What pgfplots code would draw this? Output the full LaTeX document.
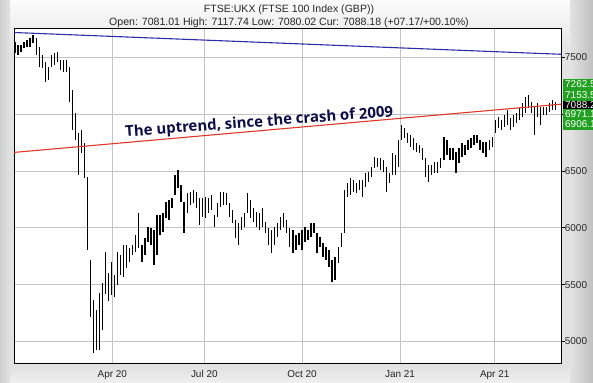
\documentclass[border=0pt]{standalone}
\usepackage{fontspec}
\setmainfont{Liberation Sans}
\newfontfamily\annotfont{Open Sans}
\usepackage{pgfplots}
\usepackage{pgfplotstable}
\pgfplotsset{compat=1.18}
\definecolor{gridgray}{RGB}{196,196,196}
\definecolor{trendblue}{RGB}{45,45,165}
\definecolor{trendred}{RGB}{225,55,40}
\definecolor{annotnavy}{RGB}{12,12,70}
\definecolor{lblgreen}{RGB}{34,160,34}
\definecolor{framegray}{RGB}{226,226,226}
\definecolor{framedark}{RGB}{192,192,192}
\definecolor{frameside}{RGB}{208,208,208}

\pgfplotstableread{
t lo hi
1 7535 7637
3 7520 7608
5 7549 7608
7 7579 7637
9 7593 7652
11 7593 7667
13 7623 7696
15 7520 7667
17 7417 7593
19 7403 7520
21 7285 7461
23 7300 7417
25 7417 7520
27 7432 7535
29 7461 7549
31 7388 7476
33 7373 7476
35 7373 7476
37 7109 7417
39 6860 7212
41 6772 7007
43 6464 6830
45 6654 6860
47 6434 6742
49 5804 6449
51 5217 5715
53 4894 5363
55 4923 5276
57 4923 5422
59 5099 5510
61 5420 5790
63 5360 5600
65 5408 5701
67 5393 5584
69 5496 5789
71 5584 5760
73 5569 5848
75 5642 5848
77 5701 5818
79 5760 5848
81 5789 5936
83 5818 6127
85 5701 5848
87 5760 5906
89 5877 6009
91 5848 5994
93 5672 5980
95 5760 6112
97 5936 6112
99 5965 6127
101 6083 6229
103 6068 6244
105 6171 6259
107 6288 6464
109 6347 6508
111 6229 6376
113 5950 6229
115 6127 6303
117 6200 6317
119 6215 6332
121 6171 6317
123 6024 6259
125 6097 6259
127 6083 6273
129 6127 6259
131 6156 6288
133 6009 6112
135 6097 6215
137 6185 6317
139 6200 6317
141 6200 6303
143 6097 6215
145 6039 6156
147 5907 6068
149 5848 6039
151 5980 6097
153 6009 6127
155 6127 6303
157 6083 6244
159 6053 6171
161 6009 6141
163 5980 6127
165 6009 6171
167 5951 6053
169 5848 5995
171 5775 5980
173 5848 6009
175 5921 6039
177 5980 6097
179 6009 6127
181 5951 6068
183 5833 5995
185 5775 5980
187 5804 5936
189 5848 5951
191 5804 5980
193 5877 6009
195 5892 5980
197 5921 6039
199 5951 6039
201 5774 5950
203 5833 5921
205 5745 5862
207 5716 5833
209 5657 5804
211 5525 5716
213 5540 5745
215 5686 5833
217 5833 5950
219 5950 6332
221 6273 6391
223 6288 6435
225 6317 6420
227 6303 6391
229 6332 6420
231 6273 6420
233 6361 6479
235 6405 6493
237 6449 6537
239 6523 6625
241 6537 6611
243 6508 6611
245 6493 6596
247 6317 6537
249 6391 6479
251 6464 6655
253 6464 6640
255 6537 6772
257 6772 6904
259 6787 6875
261 6743 6831
263 6713 6816
265 6684 6787
267 6669 6743
269 6655 6728
271 6596 6699
273 6449 6611
275 6405 6552
277 6464 6552
279 6478 6581
281 6478 6581
283 6522 6611
285 6596 6801
287 6640 6772
289 6596 6699
291 6596 6699
293 6478 6669
295 6567 6699
297 6625 6743
299 6640 6728
301 6684 6772
303 6699 6787
305 6728 6816
307 6743 6816
309 6684 6772
311 6655 6757
313 6625 6757
315 6684 6772
317 6713 6801
319 6830 6948
321 6874 6977
323 6860 6948
325 6889 6992
327 6904 7036
329 6860 6963
331 6889 6992
333 6918 7007
335 6948 7050
337 6977 7095
339 7007 7153
341 7050 7168
343 7007 7109
345 6816 7065
347 6977 7095
349 6904 7065
351 6992 7065
353 6992 7065
355 7021 7095
357 7036 7124
359 7036 7109
}\ohlc

\begin{document}
\begin{tikzpicture}
\useasboundingbox (0bp,0bp) rectangle (593bp,383bp);
% frame background
\fill[framegray] (0bp,0bp) rectangle (593bp,383bp);
\shade[top color=white!90!framegray, bottom color=framegray] (0bp,330bp) rectangle (593bp,383bp);
\shade[top color=framegray, bottom color=white!75!framedark] (0bp,0bp) rectangle (593bp,16bp);
\shade[left color=frameside, right color=framegray] (0bp,0bp) rectangle (10bp,383bp);
\shade[left color=framegray, right color=framedark] (570bp,0bp) rectangle (593bp,383bp);

\begin{axis}[
  at={(14bp,19.3bp)}, anchor=south west,
  scale only axis, width=547.7bp, height=335.4bp,
  xmin=0.33, xmax=363.05, ymin=4804, ymax=7755,
  axis background/.style={fill=white},
  axis line style={black, line width=0.8bp},
  xtick={65.43,126.36,191.06,255.96,318.68},
  xticklabels={Apr 20,Jul 20,Oct 20,Jan 21,Apr 21},
  ytick={5000,5500,6000,6500,7000,7500},
  yticklabel pos=right,
  ytick pos=right,
  xtick pos=bottom,
  tick align=outside,
  major tick length=3bp,
  x tick style={draw=none},
  y tick style={black, line width=0.6bp},
  grid=major,
  major grid style={gridgray, line width=0.8bp},
  tick label style={font=\fontsize{10}{12}\selectfont, text=black!85},
  /pgf/number format/assume math mode=true,
  /pgf/number format/1000 sep={},
  yticklabel style={anchor=west, inner sep=0pt},
  xticklabel style={inner sep=0pt, yshift=-3.5bp},
]
\addplot[draw=none, mark=none,
  error bars/.cd, y dir=both, y explicit, error mark=none,
  error bar style={draw=black, solid, line width=1.3bp}]
  table[x=t, y expr={(\thisrow{lo}+\thisrow{hi})/2},
        y error expr={(\thisrow{hi}-\thisrow{lo})/2}] {\ohlc};
\addplot[trendblue, line width=1.1bp] coordinates {(0.33,7718) (363.05,7526)};
\addplot[trendred, line width=1.1bp] coordinates {(0.33,6663) (363.05,7088)};
\node[anchor=base west, rotate=4.3, text=annotnavy, inner sep=0pt,
  font=\annotfont\bfseries\fontsize{15}{17}\selectfont]
  at (axis cs:74.2,6801) {The uptrend, since the crash of 2009};
\end{axis}

% price labels at the right edge
\begin{scope}[every node/.style={anchor=west, text=white, inner sep=0pt, font=\fontsize{10}{12}\selectfont}]
\fill[lblgreen] (562.5bp,293bp) rectangle (600bp,304bp);
\node at (565bp,298.5bp) {7262.5};
\fill[lblgreen] (562.5bp,282bp) rectangle (600bp,293bp);
\node at (565bp,287.5bp) {7153.5};
\fill[lblgreen] (562.5bp,263bp) rectangle (600bp,274bp);
\node at (565bp,268.5bp) {6971.1};
\fill[lblgreen] (562.5bp,253bp) rectangle (600bp,265bp);
\node at (565bp,258.5bp) {6906.1};
\fill[black] (562.5bp,273.5bp) rectangle (600bp,282bp);
\node at (565bp,277.8bp) {7088.2};
\end{scope}

% titles
\node[font=\fontsize{10.6}{12.5}\selectfont, text=black!85] at (289bp,373.5bp) {FTSE:UKX (FTSE 100 Index (GBP))};
\node[font=\fontsize{10.6}{12.5}\selectfont, text=black!85] at (289bp,360.3bp) {Open: 7081.01 High: 7117.74 Low: 7080.02 Cur: 7088.18 (+07.17/+00.10\%)};
\end{tikzpicture}
\end{document}
